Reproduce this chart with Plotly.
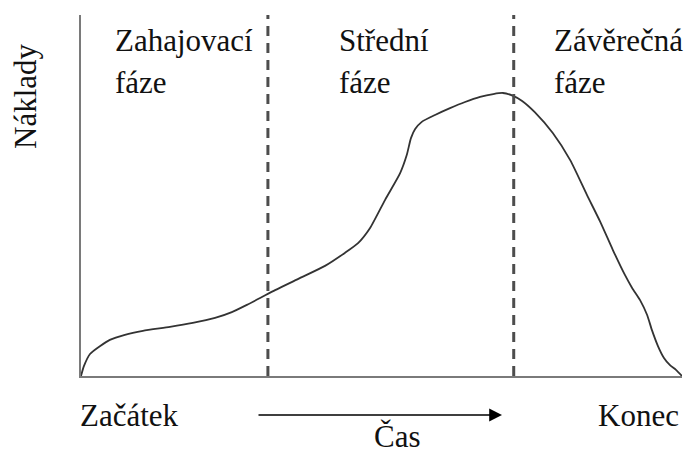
import plotly.graph_objects as go

# Curve of costs over the project time (0-100 abstract units)
time = [0, 0.5, 1.5, 3.2, 4.8, 7.3, 10.3, 14.8, 18.6, 22.3, 25.1, 27.6, 29.8, 32.3,
        36.4, 40.6, 43.9, 46.1, 48.1, 50.6, 53.1, 54.2, 54.9, 55.6, 56.7, 58.9,
        61.4, 63.9, 66.4, 68.6, 70.2, 71.9, 73.4, 75.5, 78.5, 81.4, 84.2, 86.4,
        88.5, 90.5, 91.7, 93.0, 94.2, 95.0, 96.0, 97.0, 98.0, 99.0, 100]
cost = [0, 2.8, 6.1, 8.3, 10.0, 11.4, 12.5, 13.6, 14.7, 16.1, 17.7, 19.7, 21.6, 23.8,
        27.1, 30.5, 34.1, 36.8, 41.0, 48.8, 56.2, 61.2, 65.9, 68.4, 70.4, 72.3,
        74.2, 75.9, 77.3, 78.1, 78.4, 77.6, 76.2, 73.1, 67.3, 59.8, 50.1, 42.7,
        34.9, 28.0, 24.4, 21.1, 16.9, 12.7, 8.3, 5.0, 3.0, 1.7, 0]

phase_bounds = [31.1, 72.0]
phase_line1 = ["Zahajovací", "Střední", "Závěrečná"]
phase_line2 = ["fáze", "fáze", "fáze"]
y_label = "Náklady"
x_label = "Čas"
x_start_label = "Začátek"
x_end_label = "Konec"

W, H = 685, 457
L, R, T, B = 81, 3, 15, 81
PW, PH = W - L - R, H - T - B


def px(x):
    return (x - L) / PW


def py(y):
    return (H - B - y) / PH


FONT = dict(family="Liberation Serif, Times New Roman, serif", size=31, color="#111111")

fig = go.Figure()
fig.add_trace(go.Scatter(x=time, y=cost, mode="lines",
                         line=dict(color="#333333", width=1.8, shape="spline", smoothing=0.6),
                         hoverinfo="skip", showlegend=False))

for b in phase_bounds:
    fig.add_shape(type="line", x0=b, x1=b, y0=0, y1=1, xref="x", yref="paper",
                  line=dict(color="#4d4d4d", width=3, dash="10px,7px"))

ann = []
label_x = [113, 337, 552]
for i in range(3):
    ann.append(dict(x=px(label_x[i]), y=py(40), text=phase_line1[i], xref="paper", yref="paper",
                    xanchor="left", yanchor="middle", showarrow=False, font=FONT))
    ann.append(dict(x=px(label_x[i]), y=py(82), text=phase_line2[i], xref="paper", yref="paper",
                    xanchor="left", yanchor="middle", showarrow=False, font=FONT))

ann.append(dict(x=px(26), y=py(96), text=y_label, textangle=-90, xref="paper", yref="paper",
                xanchor="center", yanchor="middle", showarrow=False, font=FONT))
ann.append(dict(x=px(78), y=py(415), text=x_start_label, xref="paper", yref="paper",
                xanchor="left", yanchor="middle", showarrow=False, font=FONT))
ann.append(dict(x=px(596), y=py(415), text=x_end_label, xref="paper", yref="paper",
                xanchor="left", yanchor="middle", showarrow=False, font=FONT))
ann.append(dict(x=px(372), y=py(436), text=x_label, xref="paper", yref="paper",
                xanchor="left", yanchor="middle", showarrow=False, font=FONT))
ann.append(dict(x=px(502), y=py(415), ax=-245, ay=0, text="", xref="paper", yref="paper",
                showarrow=True, arrowhead=2, arrowsize=1.6, arrowwidth=1.6,
                arrowcolor="#000000", standoff=0))

fig.update_layout(
    width=W, height=H,
    margin=dict(l=L, r=R, t=T, b=B),
    paper_bgcolor="white", plot_bgcolor="white",
    annotations=ann,
    xaxis=dict(range=[0, 100], showgrid=False, zeroline=False, showticklabels=False,
               ticks="", showline=True, linecolor="#7a7a7a", linewidth=2),
    yaxis=dict(range=[0, 100], showgrid=False, zeroline=False, showticklabels=False,
               ticks="", showline=True, linecolor="#7a7a7a", linewidth=2),
)

fig.write_html("out.html", config={"displayModeBar": False},
               post_script="document.body.style.margin='0';document.body.style.overflow='hidden';")
